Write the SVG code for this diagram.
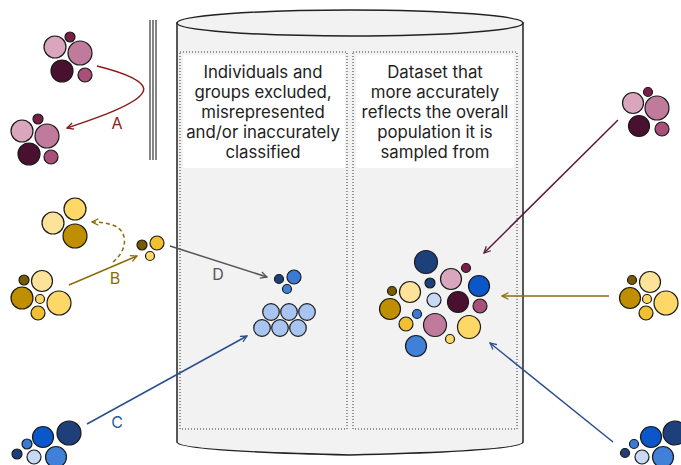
<svg xmlns="http://www.w3.org/2000/svg" width="681" height="465" viewBox="0 0 681 465">
<style>
text{font-family:Inter,Roboto,"Liberation Sans",sans-serif}
.t{font-size:16.8px;fill:#222;text-anchor:middle}
.lbl{font-size:16px;text-anchor:middle}
circle{stroke:#1a1a1a;stroke-width:1.2}
.p1{fill:#d9a6be}.p2{fill:#c07a9c}.p3{fill:#4a1030}.p4{fill:#a84f7a}.p5{fill:#7a1e48}
.y1{fill:#fde39a}.y2{fill:#fdd866}.y3{fill:#bf8f00}.y4{fill:#f0c030}.y5{fill:#7a5a00}
.b1{fill:#1d3f7a}.b2{fill:#0b57c9}.b3{fill:#3a7ad4}.b4{fill:#c8d9f5}.b5{fill:#4080d8}.b6{fill:#a8c4f0}
.dot{fill:none;stroke:#333;stroke-width:1;stroke-dasharray:1 2}
.con{fill:none;stroke-width:1.5}
</style>
<defs>
<marker id="mA" viewBox="0 0 10 10" refX="9" refY="5" markerWidth="8" markerHeight="8" orient="auto" markerUnits="userSpaceOnUse"><path d="M1,1 L9,5 L1,9" fill="none" stroke="#8b1a1a" stroke-width="1.6"/></marker>
<marker id="mB" viewBox="0 0 10 10" refX="9" refY="5" markerWidth="8" markerHeight="8" orient="auto" markerUnits="userSpaceOnUse"><path d="M1,1 L9,5 L1,9" fill="none" stroke="#8b6b0a" stroke-width="1.6"/></marker>
<marker id="mC" viewBox="0 0 10 10" refX="9" refY="5" markerWidth="8" markerHeight="8" orient="auto" markerUnits="userSpaceOnUse"><path d="M1,1 L9,5 L1,9" fill="none" stroke="#2a4f8f" stroke-width="1.6"/></marker>
<marker id="mD" viewBox="0 0 10 10" refX="9" refY="5" markerWidth="8" markerHeight="8" orient="auto" markerUnits="userSpaceOnUse"><path d="M1,1 L9,5 L1,9" fill="none" stroke="#555" stroke-width="1.6"/></marker>
<marker id="mM" viewBox="0 0 10 10" refX="9" refY="5" markerWidth="8" markerHeight="8" orient="auto" markerUnits="userSpaceOnUse"><path d="M1,1 L9,5 L1,9" fill="none" stroke="#5a1a3a" stroke-width="1.6"/></marker>
</defs>

<g id="barrier" stroke="#333" stroke-width="1.2">
<line x1="150" y1="20" x2="150" y2="160"/>
<line x1="153" y1="20" x2="153" y2="160"/>
<line x1="156" y1="20" x2="156" y2="160"/>
</g>

<g id="cylinder">
<path d="M177,23 L177,442 Q177,451 350,455 Q523,451 523,442 L523,23 Z" fill="#f2f2f2" stroke="#222" stroke-width="1.5"/>
<ellipse cx="350" cy="23" rx="173" ry="13" fill="#f2f2f2" stroke="#222" stroke-width="1.5"/>
<rect class="dot" x="180" y="52" width="167" height="377"/>
<rect class="dot" x="353" y="52" width="164" height="377"/>
<rect x="183" y="55" width="162" height="113" fill="#fff"/>
<rect x="356" y="55" width="158" height="113" fill="#fff"/>
</g>

<g id="text-left">
<text class="t" x="263" y="78">Individuals and</text>
<text class="t" x="263" y="98">groups excluded,</text>
<text class="t" x="263" y="118">misrepresented</text>
<text class="t" x="263" y="138">and/or inaccurately</text>
<text class="t" x="263" y="158">classified</text>
</g>
<g id="text-right">
<text class="t" x="435" y="78">Dataset that</text>
<text class="t" x="435" y="98">more accurately</text>
<text class="t" x="435" y="118">reflects the overall</text>
<text class="t" x="435" y="138">population it is</text>
<text class="t" x="435" y="158">sampled from</text>
</g>

<g id="connectors">
<path class="con" d="M97,66 C125,73 148,82 143,92 C137,104 100,117 67,128" stroke="#8b1a1a" marker-end="url(#mA)"/>
<path class="con" d="M69,285 L137,256" stroke="#8b6b0a" marker-end="url(#mB)"/>
<path class="con" d="M113,262 C128,250 128,232 115,226 C108,223 100,222 92,222" stroke="#8b6b0a" stroke-dasharray="4 3" marker-end="url(#mB)"/>
<path class="con" d="M87,424 L247,336" stroke="#2a4f8f" marker-end="url(#mC)"/>
<path class="con" d="M170,246 L267,277" stroke="#555" marker-end="url(#mD)"/>
<path class="con" d="M618,120 L484,253" stroke="#5a1a3a" marker-end="url(#mM)"/>
<path class="con" d="M609,296 L502,296" stroke="#8b6b0a" marker-end="url(#mB)"/>
<path class="con" d="M613,442 L490,343" stroke="#2a4f8f" marker-end="url(#mC)"/>
<text class="lbl" x="117" y="129" fill="#8b1a1a">A</text>
<text class="lbl" x="115" y="284" fill="#8b6b0a">B</text>
<text class="lbl" x="117" y="428" fill="#2a5aa0">C</text>
<text class="lbl" x="218" y="280" fill="#555">D</text>
</g>

<g id="pink-top-left">
<circle class="p5" cx="70" cy="37" r="5"/>
<circle class="p1" cx="55" cy="47" r="11"/>
<circle class="p2" cx="80" cy="53" r="12"/>
<circle class="p3" cx="62" cy="71" r="11"/>
<circle class="p4" cx="85" cy="75" r="7"/>
</g>
<g id="pink-left">
<circle class="p5" cx="38" cy="119" r="5"/>
<circle class="p1" cx="22" cy="131" r="11"/>
<circle class="p2" cx="47" cy="136" r="12"/>
<circle class="p3" cx="29" cy="154" r="11"/>
<circle class="p4" cx="51" cy="157" r="7"/>
</g>

<g id="yellow-top">
<circle class="y1" cx="53" cy="223" r="11"/>
<circle class="y2" cx="75" cy="209" r="11"/>
<circle class="y3" cx="75" cy="236" r="12"/>
</g>
<g id="yellow-small">
<circle class="y5" cx="142" cy="245" r="5"/>
<circle class="y4" cx="157" cy="243" r="7"/>
<circle class="y2" cx="150" cy="256" r="4.5"/>
</g>
<g id="yellow-left">
<circle class="y5" cx="24" cy="280" r="5"/>
<circle class="y1" cx="42" cy="281" r="10.5"/>
<circle class="y3" cx="22" cy="298" r="11"/>
<circle class="y2" cx="40" cy="299" r="4.5"/>
<circle class="y2" cx="59" cy="303" r="12"/>
<circle class="y4" cx="38" cy="313" r="7"/>
</g>

<g id="blue-left">
<circle class="b1" cx="69" cy="433" r="12"/>
<circle class="b2" cx="43" cy="437" r="10.5"/>
<circle class="b3" cx="27" cy="444" r="5"/>
<circle class="b1" cx="17" cy="454" r="5"/>
<circle class="b4" cx="34" cy="457" r="7"/>
<circle class="b5" cx="56" cy="457" r="10.5"/>
</g>

<g id="blue-small">
<circle class="b1" cx="279" cy="279" r="4.5"/>
<circle class="b3" cx="294" cy="277" r="7"/>
<circle class="b5" cx="287" cy="289" r="4.5"/>
</g>
<g id="light-blue-group">
<circle class="b6" cx="271" cy="312" r="8.3"/>
<circle class="b6" cx="289" cy="312" r="8.3"/>
<circle class="b6" cx="307" cy="312" r="8.3"/>
<circle class="b6" cx="262" cy="328" r="8.3"/>
<circle class="b6" cx="280" cy="328" r="8.3"/>
<circle class="b6" cx="298" cy="328" r="8.3"/>
</g>

<g id="mixed-cluster">
<circle class="b1" cx="426" cy="262" r="11.5"/>
<circle class="p1" cx="451" cy="279" r="10.5"/>
<circle class="p5" cx="466" cy="268" r="4.5"/>
<circle class="b2" cx="479" cy="286" r="10.5"/>
<circle class="b1" cx="430" cy="283" r="5"/>
<circle class="y5" cx="392" cy="291" r="4.5"/>
<circle class="y1" cx="410" cy="292" r="10.5"/>
<circle class="b4" cx="434" cy="300" r="7"/>
<circle class="p3" cx="458" cy="302" r="10.5"/>
<circle class="p4" cx="480" cy="306" r="7"/>
<circle class="y3" cx="390" cy="309" r="10.5"/>
<circle class="b3" cx="417" cy="314" r="4.5"/>
<circle class="y4" cx="406" cy="324" r="7"/>
<circle class="p2" cx="435" cy="325" r="11.5"/>
<circle class="y2" cx="469" cy="327" r="11.5"/>
<circle class="y2" cx="450" cy="339" r="4.5"/>
<circle class="b5" cx="416" cy="346" r="10.5"/>
</g>

<g id="pink-right">
<circle class="p5" cx="648" cy="92" r="4.5"/>
<circle class="p1" cx="633" cy="103" r="10.5"/>
<circle class="p2" cx="657" cy="108" r="12"/>
<circle class="p3" cx="639" cy="126" r="10.5"/>
<circle class="p4" cx="662" cy="129" r="7"/>
</g>
<g id="yellow-right">
<circle class="y5" cx="632" cy="280" r="4.5"/>
<circle class="y1" cx="650" cy="282" r="10.5"/>
<circle class="y3" cx="630" cy="298" r="10.5"/>
<circle class="y2" cx="647" cy="299" r="4.5"/>
<circle class="y2" cx="666" cy="303" r="12"/>
<circle class="y4" cx="646" cy="313" r="7"/>
</g>
<g id="blue-right">
<circle class="b1" cx="675" cy="433" r="12"/>
<circle class="b2" cx="651" cy="437" r="10.5"/>
<circle class="b3" cx="634" cy="444" r="4.5"/>
<circle class="b1" cx="625" cy="453" r="4.5"/>
<circle class="b4" cx="642" cy="457" r="7"/>
<circle class="b5" cx="663" cy="457" r="10.5"/>
</g>
</svg>
